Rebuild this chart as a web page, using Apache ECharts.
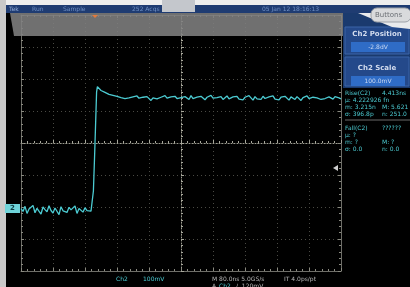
<!DOCTYPE html>
<html>
<head>
<meta charset="utf-8">
<script src="https://cdn.jsdelivr.net/npm/echarts@6/dist/echarts.min.js"></script>
<style>
  html, body { margin: 0; padding: 0; background: #000; }
  #scope { width: 410px; height: 287px; }
</style>
</head>
<body>
<div id="scope"></div>
<script>
// 80 ns/div, 100 mV/div, 10 x 8 divisions
var timeRange = [-400, 400];
var voltRange = [-400, 400];
var sampleStep = 5; // ns

// baseline before the edge, t = -400 .. -225 ns
var lowMv = [
  -205, -214, -198, -220, -206, -212, -195, -218, -204, -210,
  -222, -200, -208, -215, -196, -211, -219, -203, -207, -224,
  -199, -212, -206, -217, -201, -209, -214, -197, -220, -205,
  -210, -216, -202, -211, -207, -213
];
var lowStart = -400;

// rising edge
var edgeT = [-222, -219, -216, -213, -211, -209];
var edgeMv = [-212, -150, -40, 80, 160, 176];

// settled level after the edge, t = -205 .. 400 ns
var highMv = [
  171, 164, 168, 158, 161, 152, 156, 149, 153, 146,
  150, 142, 147, 139, 145, 141, 136, 144, 138, 147,
  140, 134, 143, 137, 145, 139, 133, 141, 146, 138,
  135, 143, 137, 148, 140, 134, 144, 138, 146, 139,
  133, 142, 137, 145, 140, 136, 148, 139, 134, 143,
  138, 146, 141, 135, 143, 137, 149, 140, 134, 142,
  139, 145, 136, 141, 147, 138, 133, 144, 140, 146,
  137, 142, 135, 143, 139, 148, 141, 134, 145, 138,
  142, 136, 146, 139, 133, 144, 140, 147, 137, 142,
  135, 143, 138, 146, 141, 134, 144, 139, 136, 145,
  140, 133, 142, 137, 147, 139, 135, 143, 138, 141,
  146, 136, 142, 139, 134, 144, 140, 137, 145, 139,
  141, 138
];
var highStart = -205;

var riseLines = [
  ['Rise(C2)', '4.413ns'],
  ['\u03bc: 4.222926 fn', ''],
  ['m: 3.215n', 'M: 5.621'],
  ['\u03c3: 396.8p', 'n: 251.0']
];
var fallLines = [
  ['Fall(C2)', '??????'],
  ['\u03bc: ?', ''],
  ['m: ?', 'M: ?'],
  ['\u03c3: 0.0', 'n: 0.0']
];

var wave = [];
lowMv.forEach(function (v, i) { wave.push([lowStart + i * sampleStep, v]); });
edgeT.forEach(function (t, i) { wave.push([t, edgeMv[i]]); });
highMv.forEach(function (v, i) { wave.push([highStart + i * sampleStep, v]); });

var font = 'DejaVu Sans';
var cyan = '#4ccbd2';

function txt(x, y, s, color, size, extra) {
  var st = { text: s, fill: color, font: (extra || '') + ' ' + size + 'px "' + font + '"', textVerticalAlign: 'middle' };
  return { type: 'text', x: x, y: y, z: 20, style: st };
}

var graphics = [
  // border strips
  { type: 'rect', z: 1, shape: { x: 0, y: 0, width: 410, height: 5 }, style: { fill: '#eeeeee' } },
  { type: 'rect', z: 1, shape: { x: 0, y: 0, width: 6, height: 287 }, style: { fill: '#c9c9c9' } },
  // status bar
  { type: 'rect', z: 2, shape: { x: 6, y: 5, width: 404, height: 8 }, style: { fill: '#1f3c72' } },
  { type: 'rect', z: 3, shape: { x: 162, y: 0, width: 33, height: 12 }, style: { fill: '#c4c7cc' } },
  txt(9, 9, 'Tek', '#93acd8', 6),
  txt(32, 9, 'Run', '#6f8fc4', 6),
  txt(63, 9, 'Sample', '#6f8fc4', 6),
  txt(132, 9, '252 Acqs', '#6f8fc4', 6),
  txt(262, 9, '05 Jan 12 18:16:13', '#6f8fc4', 6),
  // translucent grey bar across top of graticule
  { type: 'polygon', z: 10, shape: { points: [[10, 13], [343, 13], [343, 36], [14, 36]] }, style: { fill: 'rgba(128,128,128,0.88)' } },
  { type: 'polygon', z: 11, shape: { points: [[92, 15], [98, 15], [95, 18]] }, style: { fill: '#e47a3c' } },
  // right side panel
  { type: 'rect', z: 2, shape: { x: 343, y: 13, width: 67, height: 75 }, style: { fill: '#1a3a6e' } },
  { type: 'rect', z: 3, shape: { x: 345, y: 27, width: 64, height: 27 }, style: { fill: '#24498a', stroke: '#3a64a8', lineWidth: 1 } },
  { type: 'rect', z: 4, shape: { x: 351, y: 42, width: 54, height: 10 }, style: { fill: '#2f6cc6' } },
  { type: 'rect', z: 3, shape: { x: 345, y: 57, width: 64, height: 29 }, style: { fill: '#24498a', stroke: '#3a64a8', lineWidth: 1 } },
  { type: 'rect', z: 4, shape: { x: 351, y: 76, width: 54, height: 10 }, style: { fill: '#2f6cc6' } },
  { type: 'text', z: 20, x: 377, y: 34, style: { text: 'Ch2 Position', fill: '#d4ddef', font: 'bold 7px "' + font + '"', textAlign: 'center', textVerticalAlign: 'middle' } },
  { type: 'text', z: 20, x: 378, y: 47, style: { text: '-2.8dV', fill: '#c9d8f2', font: '6px "' + font + '"', textAlign: 'center', textVerticalAlign: 'middle' } },
  { type: 'text', z: 20, x: 377, y: 68, style: { text: 'Ch2 Scale', fill: '#d4ddef', font: 'bold 7px "' + font + '"', textAlign: 'center', textVerticalAlign: 'middle' } },
  { type: 'text', z: 20, x: 378, y: 81, style: { text: '100.0mV', fill: '#c9d8f2', font: '6px "' + font + '"', textAlign: 'center', textVerticalAlign: 'middle' } },
  // page curl + Buttons tab
  { type: 'polygon', z: 5, shape: { points: [[358, 13], [410, 13], [410, 29], [392, 27]] }, style: { fill: '#e9eaec' } },
  { type: 'rect', z: 6, shape: { x: 371, y: 8, width: 40, height: 14, r: 6 }, style: { fill: '#d9dadc', stroke: '#9ea2a8', lineWidth: 1 } },
  txt(375, 15, 'Buttons', '#6b6f75', 7),
  // separator between measurement blocks
  { type: 'line', z: 5, shape: { x1: 345, y1: 120, x2: 410, y2: 120 }, style: { stroke: '#6a6a6a', lineWidth: 1 } },
  // channel 2 ground marker
  { type: 'rect', z: 12, shape: { x: 5, y: 204, width: 15, height: 9 }, style: { fill: '#6fd3d9' } },
  txt(10, 208.5, '2', '#0b3a40', 7, 'bold'),
  // trigger level marker
  { type: 'polygon', z: 12, shape: { points: [[338, 165], [338, 171], [333, 168]] }, style: { fill: '#cfcfcf' } },
  // bottom readouts
  txt(116, 279, 'Ch2', cyan, 6),
  txt(143, 279, '100mV', cyan, 6),
  txt(212, 279, 'M 80.0ns 5.0GS/s', '#b8b8b8', 6),
  txt(284, 279, 'IT 4.0ps/pt', '#b8b8b8', 6),
  txt(212, 286, 'A', '#b8b8b8', 6),
  txt(219, 286, 'Ch2', cyan, 6),
  txt(236, 286, '\u2215  120mV', '#b8b8b8', 6)
];

riseLines.forEach(function (r, i) {
  graphics.push(txt(345, 93 + i * 7, r[0], cyan, 6));
  if (r[1]) graphics.push(txt(382, 93 + i * 7, r[1], cyan, 6));
});
fallLines.forEach(function (r, i) {
  graphics.push(txt(345, 128 + i * 7, r[0], cyan, 6));
  if (r[1]) graphics.push(txt(382, 128 + i * 7, r[1], cyan, 6));
});

function centerAxis(isX) {
  return {
    type: 'value',
    min: isX ? timeRange[0] : voltRange[0],
    max: isX ? timeRange[1] : voltRange[1],
    interval: isX ? 80 : 100,
    axisLine: { show: true, onZero: true, lineStyle: { color: '#9c9c90', width: 1, type: [1, 2] } },
    axisTick: { show: true, inside: true, length: 3, lineStyle: { color: '#a8a89c' } },
    minorTick: { show: true, splitNumber: 5, length: 2, lineStyle: { color: '#a8a89c' } },
    splitLine: { show: true, lineStyle: { color: '#4a4a44', width: 1, type: [1, 3] } },
    axisLabel: { show: false }
  };
}
function edgeAxis(isX, pos) {
  return {
    type: 'value',
    position: pos,
    min: isX ? timeRange[0] : voltRange[0],
    max: isX ? timeRange[1] : voltRange[1],
    interval: isX ? 80 : 100,
    axisLine: { show: true, onZero: false, lineStyle: { color: '#6e6e68', width: 1 } },
    axisTick: { show: true, inside: true, length: 3, lineStyle: { color: '#8a8a80' } },
    minorTick: { show: true, splitNumber: 5, length: 2, lineStyle: { color: '#8a8a80' } },
    splitLine: { show: false },
    axisLabel: { show: false }
  };
}

var chart = echarts.init(document.getElementById('scope'));
chart.setOption({
  animation: false,
  backgroundColor: '#000',
  grid: { left: 21, top: 15, width: 320, height: 256, show: false },
  xAxis: [centerAxis(true), edgeAxis(true, 'bottom'), edgeAxis(true, 'top')],
  yAxis: [centerAxis(false), edgeAxis(false, 'left'), edgeAxis(false, 'right')],
  series: [{
    type: 'line',
    xAxisIndex: 0,
    yAxisIndex: 0,
    data: wave,
    showSymbol: false,
    lineStyle: { color: cyan, width: 1.3 },
    z: 5
  }],
  graphic: graphics
});
</script>
</body>
</html>
